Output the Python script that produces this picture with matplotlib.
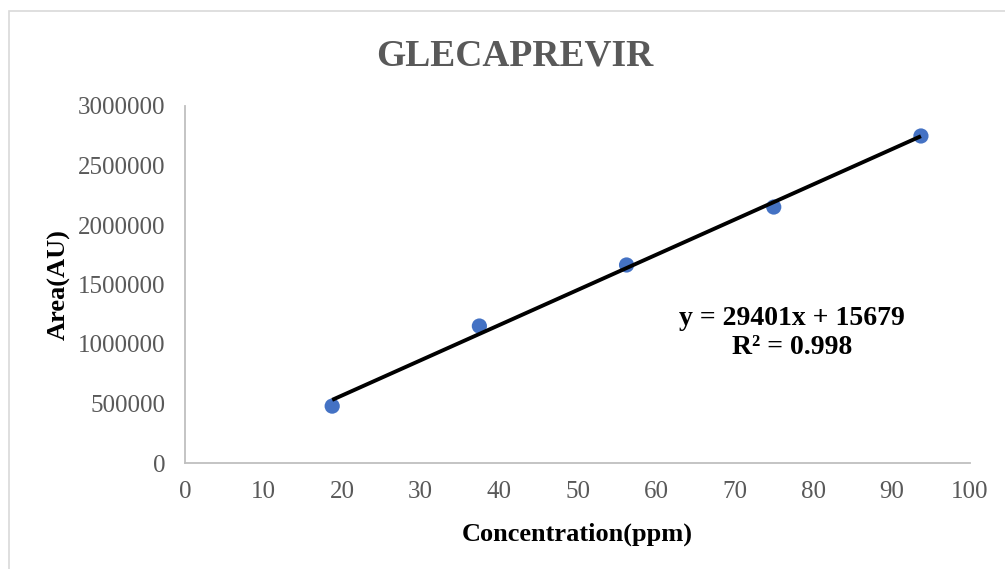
import matplotlib
matplotlib.use("Agg")
import matplotlib.pyplot as plt
import numpy as np

# Data
concentration = [18.75, 37.5, 56.25, 75.0, 93.75]
area = [478000, 1151000, 1664000, 2151000, 2748000]
slope = 29401
intercept = 15679
r_squared = 0.998
x_ticks = [0, 10, 20, 30, 40, 50, 60, 70, 80, 90, 100]
y_ticks = [0, 500000, 1000000, 1500000, 2000000, 2500000, 3000000]

plt.rcParams['font.family'] = ['Liberation Serif', 'DejaVu Serif']

fig = plt.figure(figsize=(10.05, 5.69), dpi=100)
W, H = 1005, 569

# outer chart border
fig.patches.append(plt.Rectangle((9 / W, -0.1), 1.2, (H - 11) / H + 0.1,
                                 transform=fig.transFigure, fill=False,
                                 edgecolor='#d9d9d9', linewidth=1.2))

ax = fig.add_axes([185 / W, 1 - 463 / H, (970 - 185) / W, (463 - 106) / H])
ax.set_xlim(0, 100)
ax.set_ylim(0, 3000000)

ax.scatter(concentration, area, s=120, color='#4472c4', zorder=3, edgecolors='none')
fit = np.polyfit(concentration, area, 1)
xf = np.array([min(concentration), max(concentration)])
ax.plot(xf, np.polyval(fit, xf), color='black', linewidth=2.8, zorder=4,
        solid_capstyle='butt')

for s in ['top', 'right']:
    ax.spines[s].set_visible(False)
for s in ['left', 'bottom']:
    ax.spines[s].set_color('#bfbfbf')
    ax.spines[s].set_linewidth(1.3)

ax.set_xticks(x_ticks)
ax.set_yticks(y_ticks)
ax.set_xticklabels([str(v) for v in x_ticks])
ax.set_yticklabels([str(v) for v in y_ticks])
ax.tick_params(length=0, labelsize=18, labelcolor='#595959')
ax.tick_params(axis='x', pad=13)
ax.tick_params(axis='y', pad=14)

ax.set_xlabel('Concentration(ppm)', fontsize=19, fontweight='bold', labelpad=14)
ax.set_ylabel('Area(AU)', fontsize=19, fontweight='bold', labelpad=5)

fig.text(515 / W, 1 - 56 / H, 'GLECAPREVIR', ha='center', va='center',
         fontsize=27, fontweight='bold', color='#595959')

ax.text(792 / W, 1 - 333 / H,
        f'y = {slope}x + {intercept}\nR² = {r_squared}',
        transform=fig.transFigure, ha='center', va='center',
        fontsize=20, fontweight='bold', linespacing=1.2)

fig.savefig('out.png', dpi=100)
